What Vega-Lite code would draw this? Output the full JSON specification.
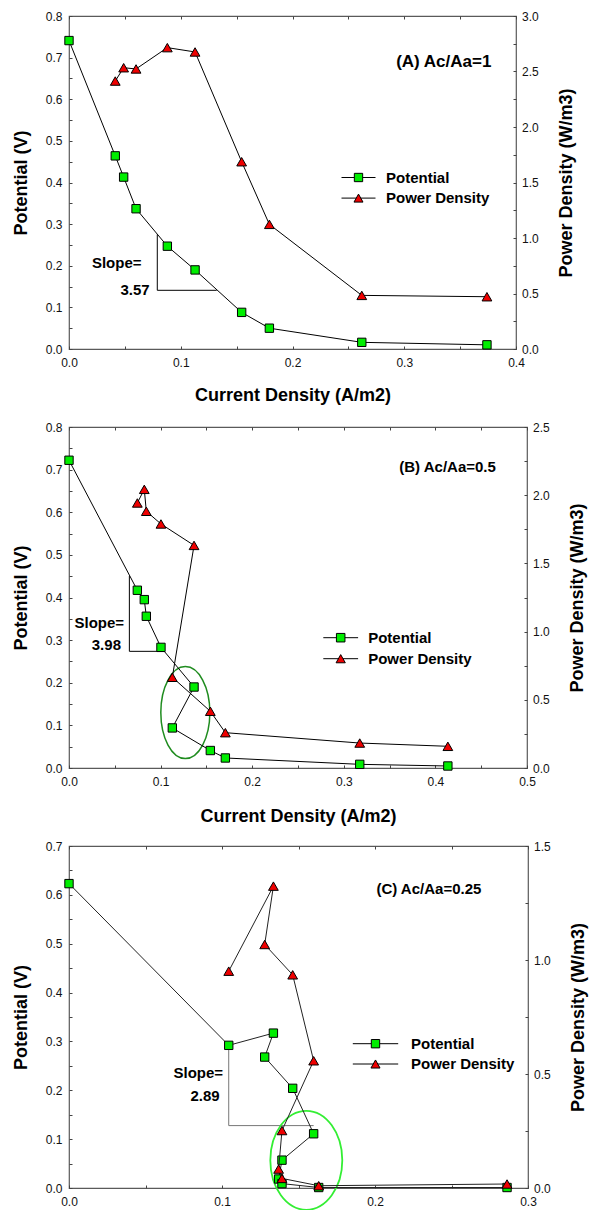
{
  "$schema": "https://vega.github.io/schema/vega-lite/v6.json",
  "autosize": {"type": "pad"},
  "padding": {"left": 12, "top": 9, "right": 4, "bottom": 0},
  "background": "white",
  "config": {
    "font": "Liberation Sans",
    "view": {"stroke": "#5a5a5a", "strokeWidth": 1.2},
    "axis": {
      "grid": false, "domain": false, "tickSize": -3, "tickColor": "#444", "tickWidth": 1,
      "labelFont": "Liberation Sans", "labelFontSize": 12, "labelColor": "#111",
      "titleFont": "Liberation Sans", "titleFontSize": 18, "titleFontWeight": "bold", "titleColor": "#000",
      "labelOverlap": false, "labelFlush": false
    },
    "text": {"font": "Liberation Sans"}
  },
  "datasets": {
    "pts": [
      {"panel": "A", "series": "Potential", "i": 1, "x": 0, "y": 0.741},
      {"panel": "A", "series": "Potential", "i": 2, "x": 0.0414, "y": 0.464},
      {"panel": "A", "series": "Potential", "i": 3, "x": 0.0489, "y": 0.413},
      {"panel": "A", "series": "Potential", "i": 4, "x": 0.060, "y": 0.337},
      {"panel": "A", "series": "Potential", "i": 5, "x": 0.088, "y": 0.247},
      {"panel": "A", "series": "Potential", "i": 6, "x": 0.1128, "y": 0.190},
      {"panel": "A", "series": "Potential", "i": 7, "x": 0.1545, "y": 0.088},
      {"panel": "A", "series": "Potential", "i": 8, "x": 0.1793, "y": 0.050},
      {"panel": "A", "series": "Potential", "i": 9, "x": 0.262, "y": 0.016},
      {"panel": "A", "series": "Potential", "i": 10, "x": 0.374, "y": 0.010},
      {"panel": "A", "series": "Power Density", "i": 1, "x": 0.0414, "y": 2.414},
      {"panel": "A", "series": "Power Density", "i": 2, "x": 0.0489, "y": 2.534},
      {"panel": "A", "series": "Power Density", "i": 3, "x": 0.060, "y": 2.523},
      {"panel": "A", "series": "Power Density", "i": 4, "x": 0.088, "y": 2.715},
      {"panel": "A", "series": "Power Density", "i": 5, "x": 0.1128, "y": 2.676},
      {"panel": "A", "series": "Power Density", "i": 6, "x": 0.1545, "y": 1.687},
      {"panel": "A", "series": "Power Density", "i": 7, "x": 0.1793, "y": 1.123},
      {"panel": "A", "series": "Power Density", "i": 8, "x": 0.262, "y": 0.483},
      {"panel": "A", "series": "Power Density", "i": 9, "x": 0.374, "y": 0.471},

      {"panel": "B", "series": "Potential", "i": 1, "x": 0, "y": 0.722},
      {"panel": "B", "series": "Potential", "i": 2, "x": 0.0746, "y": 0.417},
      {"panel": "B", "series": "Potential", "i": 3, "x": 0.0822, "y": 0.395},
      {"panel": "B", "series": "Potential", "i": 4, "x": 0.0844, "y": 0.356},
      {"panel": "B", "series": "Potential", "i": 5, "x": 0.1004, "y": 0.283},
      {"panel": "B", "series": "Potential", "i": 6, "x": 0.1365, "y": 0.190},
      {"panel": "B", "series": "Potential", "i": 7, "x": 0.1128, "y": 0.094},
      {"panel": "B", "series": "Potential", "i": 8, "x": 0.1543, "y": 0.041},
      {"panel": "B", "series": "Potential", "i": 9, "x": 0.1707, "y": 0.0235},
      {"panel": "B", "series": "Potential", "i": 10, "x": 0.3174, "y": 0.0086},
      {"panel": "B", "series": "Potential", "i": 11, "x": 0.4136, "y": 0.0047},
      {"panel": "B", "series": "Power Density", "i": 1, "x": 0.0746, "y": 1.943},
      {"panel": "B", "series": "Power Density", "i": 2, "x": 0.0822, "y": 2.043},
      {"panel": "B", "series": "Power Density", "i": 3, "x": 0.0844, "y": 1.882},
      {"panel": "B", "series": "Power Density", "i": 4, "x": 0.1004, "y": 1.789},
      {"panel": "B", "series": "Power Density", "i": 5, "x": 0.1365, "y": 1.632},
      {"panel": "B", "series": "Power Density", "i": 6, "x": 0.1128, "y": 0.665},
      {"panel": "B", "series": "Power Density", "i": 7, "x": 0.1543, "y": 0.416},
      {"panel": "B", "series": "Power Density", "i": 8, "x": 0.1707, "y": 0.259},
      {"panel": "B", "series": "Power Density", "i": 9, "x": 0.3174, "y": 0.183},
      {"panel": "B", "series": "Power Density", "i": 10, "x": 0.4136, "y": 0.159},

      {"panel": "C", "series": "Potential", "i": 1, "x": 0, "y": 0.623},
      {"panel": "C", "series": "Potential", "i": 2, "x": 0.1044, "y": 0.292},
      {"panel": "C", "series": "Potential", "i": 3, "x": 0.1336, "y": 0.317},
      {"panel": "C", "series": "Potential", "i": 4, "x": 0.1279, "y": 0.268},
      {"panel": "C", "series": "Potential", "i": 5, "x": 0.1462, "y": 0.204},
      {"panel": "C", "series": "Potential", "i": 6, "x": 0.1599, "y": 0.111},
      {"panel": "C", "series": "Potential", "i": 7, "x": 0.1392, "y": 0.057},
      {"panel": "C", "series": "Potential", "i": 8, "x": 0.137, "y": 0.0184},
      {"panel": "C", "series": "Potential", "i": 9, "x": 0.1392, "y": 0.009},
      {"panel": "C", "series": "Potential", "i": 10, "x": 0.1632, "y": 0.001},
      {"panel": "C", "series": "Potential", "i": 11, "x": 0.2863, "y": 0.001},
      {"panel": "C", "series": "Power Density", "i": 1, "x": 0.1044, "y": 0.951},
      {"panel": "C", "series": "Power Density", "i": 2, "x": 0.1336, "y": 1.324},
      {"panel": "C", "series": "Power Density", "i": 3, "x": 0.1279, "y": 1.068},
      {"panel": "C", "series": "Power Density", "i": 4, "x": 0.1462, "y": 0.935},
      {"panel": "C", "series": "Power Density", "i": 5, "x": 0.1599, "y": 0.558},
      {"panel": "C", "series": "Power Density", "i": 6, "x": 0.1392, "y": 0.252},
      {"panel": "C", "series": "Power Density", "i": 7, "x": 0.137, "y": 0.083},
      {"panel": "C", "series": "Power Density", "i": 8, "x": 0.1392, "y": 0.042},
      {"panel": "C", "series": "Power Density", "i": 9, "x": 0.1632, "y": 0.010},
      {"panel": "C", "series": "Power Density", "i": 10, "x": 0.2863, "y": 0.0175}
    ],
    "slope": [
      {"panel": "A", "i": 1, "x": 0.079, "y": 0.2755},
      {"panel": "A", "i": 2, "x": 0.079, "y": 0.141},
      {"panel": "A", "i": 3, "x": 0.1322, "y": 0.141},
      {"panel": "B", "i": 1, "x": 0.0659, "y": 0.4504},
      {"panel": "B", "i": 2, "x": 0.0659, "y": 0.2737},
      {"panel": "B", "i": 3, "x": 0.104, "y": 0.2737},
      {"panel": "C", "i": 1, "x": 0.1044, "y": 0.2916},
      {"panel": "C", "i": 2, "x": 0.1044, "y": 0.1277},
      {"panel": "C", "i": 3, "x": 0.1599, "y": 0.1277}
    ],
    "tag": [
      {"panel": "A", "text": "(A) Ac/Aa=1", "x": 0.378, "y": 0.6895},
      {"panel": "B", "text": "(B) Ac/Aa=0.5", "x": 0.466, "y": 0.706},
      {"panel": "C", "text": "(C) Ac/Aa=0.25", "x": 0.2695, "y": 0.611}
    ],
    "stext": [
      {"panel": "A", "text": "Slope=", "x": 0.0427, "y": 0.206},
      {"panel": "A", "text": "3.57", "x": 0.0591, "y": 0.141},
      {"panel": "B", "text": "Slope=", "x": 0.0331, "y": 0.340},
      {"panel": "B", "text": "3.98", "x": 0.0408, "y": 0.289},
      {"panel": "C", "text": "Slope=", "x": 0.0845, "y": 0.2356},
      {"panel": "C", "text": "2.89", "x": 0.0889, "y": 0.1878}
    ],
    "ell": [
      {"panel": "B", "x": 0.127, "y": 0.13},
      {"panel": "C", "x": 0.1551, "y": 0.0567}
    ]
  },
  "spacing": 78,
  "bounds": "flush",
  "resolve": {"scale": {"fill": "independent", "shape": "independent"}, "legend": {"fill": "independent", "shape": "independent"}},
  "vconcat": [
    {
      "width": 447, "height": 333,
      "resolve": {"scale": {"y": "independent"}, "axis": {"x": "independent"}},
      "layer": [
        {
          "encoding": {
            "x": {"field": "x", "type": "quantitative", "scale": {"domain": [0, 0.4], "nice": false, "zero": false},
              "axis": {"orient": "bottom", "values": [0, 0.05, 0.1, 0.15, 0.2, 0.25, 0.3, 0.35, 0.4],
                "labelExpr": "abs(datum.value*10-round(datum.value*10))<0.001 ? format(datum.value,'.1f') : ''",
                "title": "Current Density (A/m2)", "labelPadding": 11.5, "titlePadding": 18}},
            "y": {"field": "y", "type": "quantitative", "scale": {"domain": [0, 0.8], "nice": false, "zero": false},
              "axis": {"orient": "left", "values": [0, 0.05, 0.1, 0.15, 0.2, 0.25, 0.3, 0.35, 0.4, 0.45, 0.5, 0.55, 0.6, 0.65, 0.7, 0.75, 0.8],
                "labelExpr": "abs(datum.value*10-round(datum.value*10))<0.001 ? format(datum.value,'.1f') : ''",
                "title": "Potential (V)", "labelPadding": 10, "titlePadding": 14.5}}
          },
          "layer": [
            {"data": {"name": "slope"}, "transform": [{"filter": "datum.panel=='A'"}],
              "mark": {"type": "line", "color": "black", "strokeWidth": 1},
              "encoding": {"order": {"field": "i", "type": "quantitative"}}},
            {"data": {"name": "pts"}, "transform": [{"filter": "datum.panel=='A' && datum.series=='Potential'"}],
              "mark": {"type": "line", "color": "black", "strokeWidth": 1},
              "encoding": {"order": {"field": "i", "type": "quantitative"}}},
            {"data": {"name": "pts"}, "transform": [{"filter": "datum.panel=='A' && datum.series=='Potential'"}],
              "mark": {"type": "point", "shape": "square", "size": 70, "filled": true, "stroke": "black", "strokeWidth": 1, "opacity": 1},
              "encoding": {"fill": {"field": "series", "type": "nominal",
                "scale": {"domain": ["Potential", "Power Density"], "range": ["#00ee00", "#ee0000"]},
                "legend": {"orient": "none", "legendX": 272, "legendY": 152, "direction": "vertical", "title": null, "padding": 0,
                  "labelFont": "Liberation Sans", "labelFontSize": 15, "labelFontWeight": "bold", "labelColor": "black",
                  "labelOffset": 10, "clipHeight": 19, "rowPadding": 1.6, "symbolSize": 1156,
                  "symbolStrokeWidth": 1, "symbolOpacity": 1}}}},
            {"data": {"name": "tag"}, "transform": [{"filter": "datum.panel=='A'"}],
              "mark": {"type": "text", "align": "right", "baseline": "middle", "fontSize": 17, "fontWeight": "bold", "color": "black"},
              "encoding": {"text": {"field": "text", "type": "nominal"}}},
            {"data": {"name": "stext"}, "transform": [{"filter": "datum.panel=='A'"}],
              "mark": {"type": "text", "align": "center", "baseline": "middle", "fontSize": 15, "fontWeight": "bold", "color": "black"},
              "encoding": {"text": {"field": "text", "type": "nominal"}}}
          ]
        },
        {
          "encoding": {
            "x": {"field": "x", "type": "quantitative", "scale": {"domain": [0, 0.4], "nice": false, "zero": false},
              "axis": {"orient": "top", "values": [0, 0.05, 0.1, 0.15, 0.2, 0.25, 0.3, 0.35, 0.4], "labels": false, "title": null}},
            "y": {"field": "y", "type": "quantitative", "scale": {"domain": [0, 3], "nice": false, "zero": false},
              "axis": {"orient": "right", "values": [0, 0.25, 0.5, 0.75, 1, 1.25, 1.5, 1.75, 2, 2.25, 2.5, 2.75, 3],
                "labelExpr": "abs(datum.value*2-round(datum.value*2))<0.001 ? format(datum.value,'.1f') : ''",
                "title": "Power Density (W/m3)", "titleAngle": 270, "titleBaseline": "top", "labelPadding": 8.5, "titlePadding": 19.5}}
          },
          "layer": [
            {"data": {"name": "pts"}, "transform": [{"filter": "datum.panel=='A' && datum.series=='Power Density'"}],
              "mark": {"type": "line", "color": "black", "strokeWidth": 1},
              "encoding": {"order": {"field": "i", "type": "quantitative"}}},
            {"data": {"name": "pts"}, "transform": [{"filter": "datum.panel=='A' && datum.series=='Power Density'"}],
              "mark": {"type": "point", "shape": "triangle-up", "size": 95, "filled": true, "stroke": "black", "strokeWidth": 1, "opacity": 1},
              "encoding": {"fill": {"field": "series", "type": "nominal",
                "scale": {"domain": ["Potential", "Power Density"], "range": ["#00ee00", "#ee0000"]},
                "legend": {"orient": "none", "legendX": 272, "legendY": 152, "direction": "vertical", "title": null, "padding": 0,
                  "labelFont": "Liberation Sans", "labelFontSize": 15, "labelFontWeight": "bold", "labelColor": "black",
                  "labelOffset": 10, "clipHeight": 19, "rowPadding": 1.6, "symbolSize": 1156,
                  "symbolStrokeWidth": 1, "symbolOpacity": 1}}}},
            {"data": {"name": "pts"}, "transform": [{"filter": "datum.panel=='A'"}],
              "mark": {"type": "point", "size": 1, "filled": true, "stroke": "black", "strokeWidth": 1, "opacity": 0},
              "encoding": {
                "fill": {"field": "series", "type": "nominal",
                  "scale": {"domain": ["Potential", "Power Density"], "range": ["#00ee00", "#ee0000"]},
                  "legend": {"orient": "none", "legendX": 272, "legendY": 152, "direction": "vertical", "title": null, "padding": 0,
                    "labelFont": "Liberation Sans", "labelFontSize": 15, "labelFontWeight": "bold", "labelColor": "black",
                    "labelOffset": 10, "clipHeight": 19, "rowPadding": 1.6, "symbolSize": 1156,
                    "symbolStrokeWidth": 1, "symbolOpacity": 1}},
                "shape": {"field": "series", "type": "nominal",
                  "scale": {"domain": ["Potential", "Power Density"], "range": ["M-1,0L-0.245,0M0.245,0L1,0M-0.245,-0.245L0.245,-0.245L0.245,0.245L-0.245,0.245Z", "M-1,0L-0.13,0M0.13,0L1,0M0,-0.235L0.265,0.235L-0.265,0.235Z"]},
                  "legend": {"orient": "none", "legendX": 272, "legendY": 152, "direction": "vertical", "title": null, "padding": 0,
                    "labelFont": "Liberation Sans", "labelFontSize": 15, "labelFontWeight": "bold", "labelColor": "black",
                    "labelOffset": 10, "clipHeight": 19, "rowPadding": 1.6, "symbolSize": 1156,
                    "symbolStrokeWidth": 1, "symbolOpacity": 1}}}}
          ]
        }
      ]
    },
    {
      "width": 458, "height": 341,
      "resolve": {"scale": {"y": "independent"}, "axis": {"x": "independent"}},
      "layer": [
        {
          "encoding": {
            "x": {"field": "x", "type": "quantitative", "scale": {"domain": [0, 0.5], "nice": false, "zero": false},
              "axis": {"orient": "bottom", "values": [0, 0.05, 0.1, 0.15, 0.2, 0.25, 0.3, 0.35, 0.4, 0.45, 0.5],
                "labelExpr": "abs(datum.value*10-round(datum.value*10))<0.001 ? format(datum.value,'.1f') : ''",
                "title": "Current Density (A/m2)", "labelPadding": 11.5, "titlePadding": 20}},
            "y": {"field": "y", "type": "quantitative", "scale": {"domain": [0, 0.8], "nice": false, "zero": false},
              "axis": {"orient": "left", "values": [0, 0.05, 0.1, 0.15, 0.2, 0.25, 0.3, 0.35, 0.4, 0.45, 0.5, 0.55, 0.6, 0.65, 0.7, 0.75, 0.8],
                "labelExpr": "abs(datum.value*10-round(datum.value*10))<0.001 ? format(datum.value,'.1f') : ''",
                "title": "Potential (V)", "labelPadding": 10, "titlePadding": 14.5}}
          },
          "layer": [
            {"data": {"name": "slope"}, "transform": [{"filter": "datum.panel=='B'"}],
              "mark": {"type": "line", "color": "black", "strokeWidth": 1},
              "encoding": {"order": {"field": "i", "type": "quantitative"}}},
            {"data": {"name": "ell"}, "transform": [{"filter": "datum.panel=='B'"}],
              "mark": {"type": "point", "shape": "M0,-1A0.533,1 0 1,1 0,1A0.533,1 0 1,1 0,-1Z", "size": 8464, "filled": false, "stroke": "#1f8c1f", "strokeWidth": 1.5, "opacity": 1}},
            {"data": {"name": "pts"}, "transform": [{"filter": "datum.panel=='B' && datum.series=='Potential'"}],
              "mark": {"type": "line", "color": "black", "strokeWidth": 1},
              "encoding": {"order": {"field": "i", "type": "quantitative"}}},
            {"data": {"name": "pts"}, "transform": [{"filter": "datum.panel=='B' && datum.series=='Potential'"}],
              "mark": {"type": "point", "shape": "square", "size": 70, "filled": true, "stroke": "black", "strokeWidth": 1, "opacity": 1},
              "encoding": {"fill": {"field": "series", "type": "nominal",
                "scale": {"domain": ["Potential", "Power Density"], "range": ["#00ee00", "#ee0000"]},
                "legend": {"orient": "none", "legendX": 253.7, "legendY": 201.2, "direction": "vertical", "title": null, "padding": 0,
                  "labelFont": "Liberation Sans", "labelFontSize": 15, "labelFontWeight": "bold", "labelColor": "black",
                  "labelOffset": 9.5, "clipHeight": 19, "rowPadding": 2, "symbolSize": 1211,
                  "symbolStrokeWidth": 1, "symbolOpacity": 1}}}},
            {"data": {"name": "tag"}, "transform": [{"filter": "datum.panel=='B'"}],
              "mark": {"type": "text", "align": "right", "baseline": "middle", "fontSize": 15, "fontWeight": "bold", "color": "black"},
              "encoding": {"text": {"field": "text", "type": "nominal"}}},
            {"data": {"name": "stext"}, "transform": [{"filter": "datum.panel=='B'"}],
              "mark": {"type": "text", "align": "center", "baseline": "middle", "fontSize": 15, "fontWeight": "bold", "color": "black"},
              "encoding": {"text": {"field": "text", "type": "nominal"}}}
          ]
        },
        {
          "encoding": {
            "x": {"field": "x", "type": "quantitative", "scale": {"domain": [0, 0.5], "nice": false, "zero": false},
              "axis": {"orient": "top", "values": [0, 0.05, 0.1, 0.15, 0.2, 0.25, 0.3, 0.35, 0.4, 0.45, 0.5], "labels": false, "title": null}},
            "y": {"field": "y", "type": "quantitative", "scale": {"domain": [0, 2.5], "nice": false, "zero": false},
              "axis": {"orient": "right", "values": [0, 0.25, 0.5, 0.75, 1, 1.25, 1.5, 1.75, 2, 2.25, 2.5],
                "labelExpr": "abs(datum.value*2-round(datum.value*2))<0.001 ? format(datum.value,'.1f') : ''",
                "title": "Power Density (W/m3)", "titleAngle": 270, "titleBaseline": "top", "labelPadding": 8.5, "titlePadding": 19.5}}
          },
          "layer": [
            {"data": {"name": "pts"}, "transform": [{"filter": "datum.panel=='B' && datum.series=='Power Density'"}],
              "mark": {"type": "line", "color": "black", "strokeWidth": 1},
              "encoding": {"order": {"field": "i", "type": "quantitative"}}},
            {"data": {"name": "pts"}, "transform": [{"filter": "datum.panel=='B' && datum.series=='Power Density'"}],
              "mark": {"type": "point", "shape": "triangle-up", "size": 95, "filled": true, "stroke": "black", "strokeWidth": 1, "opacity": 1},
              "encoding": {"fill": {"field": "series", "type": "nominal",
                "scale": {"domain": ["Potential", "Power Density"], "range": ["#00ee00", "#ee0000"]},
                "legend": {"orient": "none", "legendX": 253.7, "legendY": 201.2, "direction": "vertical", "title": null, "padding": 0,
                  "labelFont": "Liberation Sans", "labelFontSize": 15, "labelFontWeight": "bold", "labelColor": "black",
                  "labelOffset": 9.5, "clipHeight": 19, "rowPadding": 2, "symbolSize": 1211,
                  "symbolStrokeWidth": 1, "symbolOpacity": 1}}}},
            {"data": {"name": "pts"}, "transform": [{"filter": "datum.panel=='B'"}],
              "mark": {"type": "point", "size": 1, "filled": true, "stroke": "black", "strokeWidth": 1, "opacity": 0},
              "encoding": {
                "fill": {"field": "series", "type": "nominal",
                  "scale": {"domain": ["Potential", "Power Density"], "range": ["#00ee00", "#ee0000"]},
                  "legend": {"orient": "none", "legendX": 253.7, "legendY": 201.2, "direction": "vertical", "title": null, "padding": 0,
                    "labelFont": "Liberation Sans", "labelFontSize": 15, "labelFontWeight": "bold", "labelColor": "black",
                    "labelOffset": 9.5, "clipHeight": 19, "rowPadding": 2, "symbolSize": 1211,
                    "symbolStrokeWidth": 1, "symbolOpacity": 1}},
                "shape": {"field": "series", "type": "nominal",
                  "scale": {"domain": ["Potential", "Power Density"], "range": ["M-1,0L-0.245,0M0.245,0L1,0M-0.245,-0.245L0.245,-0.245L0.245,0.245L-0.245,0.245Z", "M-1,0L-0.13,0M0.13,0L1,0M0,-0.235L0.265,0.235L-0.265,0.235Z"]},
                  "legend": {"orient": "none", "legendX": 253.7, "legendY": 201.2, "direction": "vertical", "title": null, "padding": 0,
                    "labelFont": "Liberation Sans", "labelFontSize": 15, "labelFontWeight": "bold", "labelColor": "black",
                    "labelOffset": 9.5, "clipHeight": 19, "rowPadding": 2, "symbolSize": 1211,
                    "symbolStrokeWidth": 1, "symbolOpacity": 1}}}}
          ]
        }
      ]
    },
    {
      "width": 459, "height": 342,
      "resolve": {"scale": {"y": "independent"}, "axis": {"x": "independent"}},
      "layer": [
        {
          "encoding": {
            "x": {"field": "x", "type": "quantitative", "scale": {"domain": [0, 0.3], "nice": false, "zero": false},
              "axis": {"orient": "bottom", "values": [0, 0.05, 0.1, 0.15, 0.2, 0.25, 0.3],
                "labelExpr": "abs(datum.value*10-round(datum.value*10))<0.001 ? format(datum.value,'.1f') : ''",
                "title": null, "labelPadding": 11.5}},
            "y": {"field": "y", "type": "quantitative", "scale": {"domain": [0, 0.7], "nice": false, "zero": false},
              "axis": {"orient": "left", "values": [0, 0.05, 0.1, 0.15, 0.2, 0.25, 0.3, 0.35, 0.4, 0.45, 0.5, 0.55, 0.6, 0.65, 0.7],
                "labelExpr": "abs(datum.value*10-round(datum.value*10))<0.001 ? format(datum.value,'.1f') : ''",
                "title": "Potential (V)", "labelPadding": 10, "titlePadding": 14.5}}
          },
          "layer": [
            {"data": {"name": "slope"}, "transform": [{"filter": "datum.panel=='C'"}],
              "mark": {"type": "line", "color": "#777777", "strokeWidth": 1},
              "encoding": {"order": {"field": "i", "type": "quantitative"}}},
            {"data": {"name": "ell"}, "transform": [{"filter": "datum.panel=='C'"}],
              "mark": {"type": "point", "shape": "M0,-1A0.727,1 0 1,1 0,1A0.727,1 0 1,1 0,-1Z", "size": 9801, "filled": false, "stroke": "#33ee33", "strokeWidth": 1.8, "opacity": 1}},
            {"data": {"name": "pts"}, "transform": [{"filter": "datum.panel=='C' && datum.series=='Potential'"}],
              "mark": {"type": "line", "color": "#222222", "strokeWidth": 1},
              "encoding": {"order": {"field": "i", "type": "quantitative"}}},
            {"data": {"name": "pts"}, "transform": [{"filter": "datum.panel=='C' && datum.series=='Potential'"}],
              "mark": {"type": "point", "shape": "square", "size": 70, "filled": true, "stroke": "black", "strokeWidth": 1, "opacity": 1},
              "encoding": {"fill": {"field": "series", "type": "nominal",
                "scale": {"domain": ["Potential", "Power Density"], "range": ["#00ee00", "#ee0000"]},
                "legend": {"orient": "none", "legendX": 283, "legendY": 188.2, "direction": "vertical", "title": null, "padding": 0,
                  "labelFont": "Liberation Sans", "labelFontSize": 15, "labelFontWeight": "bold", "labelColor": "black",
                  "labelOffset": 12, "clipHeight": 19, "rowPadding": 1.3, "symbolSize": 2061,
                  "symbolStrokeWidth": 1, "symbolOpacity": 1}}}},
            {"data": {"name": "tag"}, "transform": [{"filter": "datum.panel=='C'"}],
              "mark": {"type": "text", "align": "right", "baseline": "middle", "fontSize": 15, "fontWeight": "bold", "color": "black"},
              "encoding": {"text": {"field": "text", "type": "nominal"}}},
            {"data": {"name": "stext"}, "transform": [{"filter": "datum.panel=='C'"}],
              "mark": {"type": "text", "align": "center", "baseline": "middle", "fontSize": 15, "fontWeight": "bold", "color": "black"},
              "encoding": {"text": {"field": "text", "type": "nominal"}}}
          ]
        },
        {
          "encoding": {
            "x": {"field": "x", "type": "quantitative", "scale": {"domain": [0, 0.3], "nice": false, "zero": false},
              "axis": {"orient": "top", "values": [0, 0.05, 0.1, 0.15, 0.2, 0.25, 0.3], "labels": false, "title": null}},
            "y": {"field": "y", "type": "quantitative", "scale": {"domain": [0, 1.5], "nice": false, "zero": false},
              "axis": {"orient": "right", "values": [0, 0.25, 0.5, 0.75, 1, 1.25, 1.5],
                "labelExpr": "abs(datum.value*2-round(datum.value*2))<0.001 ? format(datum.value,'.1f') : ''",
                "title": "Power Density (W/m3)", "titleAngle": 270, "titleBaseline": "top", "labelPadding": 8.5, "titlePadding": 19.5}}
          },
          "layer": [
            {"data": {"name": "pts"}, "transform": [{"filter": "datum.panel=='C' && datum.series=='Power Density'"}],
              "mark": {"type": "line", "color": "#222222", "strokeWidth": 1},
              "encoding": {"order": {"field": "i", "type": "quantitative"}}},
            {"data": {"name": "pts"}, "transform": [{"filter": "datum.panel=='C' && datum.series=='Power Density'"}],
              "mark": {"type": "point", "shape": "triangle-up", "size": 95, "filled": true, "stroke": "black", "strokeWidth": 1, "opacity": 1},
              "encoding": {"fill": {"field": "series", "type": "nominal",
                "scale": {"domain": ["Potential", "Power Density"], "range": ["#00ee00", "#ee0000"]},
                "legend": {"orient": "none", "legendX": 283, "legendY": 188.2, "direction": "vertical", "title": null, "padding": 0,
                  "labelFont": "Liberation Sans", "labelFontSize": 15, "labelFontWeight": "bold", "labelColor": "black",
                  "labelOffset": 12, "clipHeight": 19, "rowPadding": 1.3, "symbolSize": 2061,
                  "symbolStrokeWidth": 1, "symbolOpacity": 1}}}},
            {"data": {"name": "pts"}, "transform": [{"filter": "datum.panel=='C'"}],
              "mark": {"type": "point", "size": 1, "filled": true, "stroke": "black", "strokeWidth": 1, "opacity": 0},
              "encoding": {
                "fill": {"field": "series", "type": "nominal",
                  "scale": {"domain": ["Potential", "Power Density"], "range": ["#00ee00", "#ee0000"]},
                  "legend": {"orient": "none", "legendX": 283, "legendY": 188.2, "direction": "vertical", "title": null, "padding": 0,
                    "labelFont": "Liberation Sans", "labelFontSize": 15, "labelFontWeight": "bold", "labelColor": "black",
                    "labelOffset": 12, "clipHeight": 19, "rowPadding": 1.3, "symbolSize": 2061,
                    "symbolStrokeWidth": 1, "symbolOpacity": 1}},
                "shape": {"field": "series", "type": "nominal",
                  "scale": {"domain": ["Potential", "Power Density"], "range": ["M-1,0L-0.184,0M0.184,0L1,0M-0.184,-0.184L0.184,-0.184L0.184,0.184L-0.184,0.184Z", "M-1,0L-0.1,0M0.1,0L1,0M0,-0.178L0.2,0.178L-0.2,0.178Z"]},
                  "legend": {"orient": "none", "legendX": 283, "legendY": 188.2, "direction": "vertical", "title": null, "padding": 0,
                    "labelFont": "Liberation Sans", "labelFontSize": 15, "labelFontWeight": "bold", "labelColor": "black",
                    "labelOffset": 12, "clipHeight": 19, "rowPadding": 1.3, "symbolSize": 2061,
                    "symbolStrokeWidth": 1, "symbolOpacity": 1}}}}
          ]
        }
      ]
    }
  ]
}
